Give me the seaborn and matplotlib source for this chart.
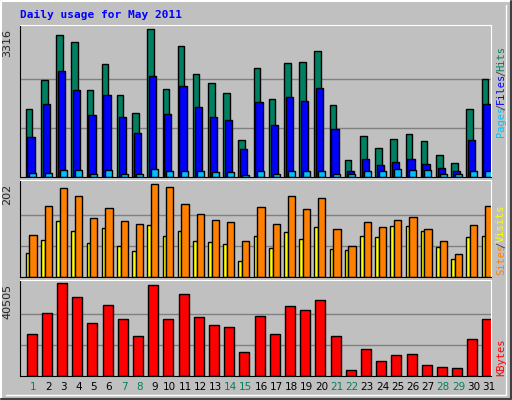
import matplotlib
matplotlib.use('Agg')
from matplotlib import pyplot as plt
import numpy as np
import pandas as pd
import seaborn as sns

days = list(range(1, 32))
weekend = [1, 7, 8, 14, 15, 21, 22, 28, 29]
hits = [1530, 2186, 3188, 3022, 1960, 2547, 1846, 1439, 3316, 1982, 2932, 2321, 2118, 1892, 829, 2457,
        1756, 2570, 2593, 2841, 1620, 377, 919, 648, 852, 965, 806, 490, 309, 1530, 2208]
files = [897, 1643, 2389, 1960, 1394, 1846, 1349, 987, 2276, 1417, 2050, 1575, 1349, 1281, 626, 1688,
         1168, 1801, 1711, 2005, 1078, 128, 400, 264, 332, 400, 286, 196, 128, 829, 1643]
pages = [98, 98, 150, 150, 75, 150, 75, 60, 173, 128, 128, 128, 105, 105, 38, 128,
         75, 128, 128, 128, 75, 75, 128, 128, 173, 150, 150, 75, 60, 128, 128]
visits = [91, 154, 193, 176, 128, 150, 122, 115, 202, 195, 159, 137, 124, 119, 78, 152,
          115, 176, 148, 172, 104, 67, 119, 109, 124, 130, 104, 78, 50, 113, 154]
sites = [52, 80, 122, 100, 74, 106, 67, 56, 113, 89, 100, 78, 76, 72, 35, 89,
         63, 98, 83, 109, 61, 59, 89, 87, 111, 111, 100, 65, 39, 87, 89]
kbytes = [18497, 27745, 40505, 34351, 23341, 31268, 25103, 17616, 39636, 25103, 35672, 25984, 22460,
          21580, 10570, 26424, 18497, 30828, 29066, 33030, 17616, 2642, 11891, 6606, 9248, 9689,
          4844, 3964, 3523, 16295, 25103]

sns.set_style("white")
plt.rcParams['font.family'] = ['DejaVu Sans Mono', 'DejaVu Sans']
BG = '#c0c0c0'
fig = plt.figure(figsize=(5.12, 4.0), dpi=100, facecolor=BG)

d = np.array(days, dtype=float)


def bars(ax, offset, width, vals, color):
    # left edge offset -> bar center
    df = pd.DataFrame({'x': d + offset + width / 2, 'y': vals})
    sns.barplot(data=df, x='x', y='y', native_scale=True, width=width, color=color,
                edgecolor='black', linewidth=1.0, saturation=1, ax=ax)


def panel(bottom, height, ymax, top):
    ax = fig.add_axes([20 / 512, bottom, 471 / 512, height])
    ax.set_facecolor(BG)
    for g in (ymax / 3, ymax * 2 / 3):
        ax.axhline(g, color='#808080', lw=1, zorder=0)
    for s in ('left', 'bottom'):
        ax.spines[s].set_color('black')
    for s in ('top', 'right'):
        ax.spines[s].set_color('white')
    ax.text(-0.016, ymax, str(ymax), transform=ax.get_yaxis_transform(), rotation=90,
            ha='right', va='top', fontsize=8, family='DejaVu Sans')
    return ax


def finish(ax, top):
    ax.set_xlim(0.14, 31.14)
    ax.set_ylim(0, top)
    ax.set_xticks([])
    ax.set_yticks([])
    ax.set_xlabel('')
    ax.set_ylabel('')


ax1 = panel(1 - 177 / 400, 152 / 400, 3316, 3414)
bars(ax1, -0.48, 0.43, hits, '#008060')
bars(ax1, -0.37, 0.48, files, '#0000ff')
bars(ax1, -0.24, 0.46, pages, '#00c0ff')
finish(ax1, 3414)

ax2 = panel(1 - 277 / 400, 97 / 400, 202, 210)
bars(ax2, -0.48, 0.24, sites, '#ffff00')
bars(ax2, -0.24, 0.48, visits, '#ff8000')
finish(ax2, 210)

ax3 = panel(1 - 376 / 400, 96 / 400, 40505, 41989)
bars(ax3, -0.42, 0.66, kbytes, '#ff0000')
finish(ax3, 41989)

for i in days:
    ax3.text(i, -0.06, str(i), transform=ax3.get_xaxis_transform(), ha='center', va='top',
             fontsize=7.5, color='#008060' if i in weekend else 'black', family='DejaVu Sans')

fig.text(20 / 512, 1 - 15 / 400, 'Daily usage for May 2011', color='#0000ff', fontweight='bold',
         fontsize=8, va='center', ha='left')


def side(parts, y0):
    y = y0
    for txt, col in parts:
        fig.text(501 / 512, y, txt, rotation=90, color=col, fontsize=7.5, ha='center', va='bottom')
        y += len(txt) * 5.5 / 400


side([('Pages', '#00c0ff'), ('/', '#404040'), ('Files', '#0000ff'), ('/', '#404040'),
      ('Hits', '#008060')], 1 - 137 / 400)
side([('Sites', '#ff8000'), ('/', '#404040'), ('Visits', '#ffff00')], 1 - 275 / 400)
side([('KBytes', '#ff0000')], 1 - 376 / 400)

# 3d-style outer border
fig.add_artist(plt.Line2D([0.002, 0.002, 0.998], [0.002, 0.998, 0.998], color='white', lw=1.5))
fig.add_artist(plt.Line2D([0.002, 0.998, 0.998], [0.002, 0.002, 0.998], color='#404040', lw=1.5))
fig.add_artist(plt.Line2D([0.012, 0.988, 0.988], [0.012, 0.012, 0.988], color='white', lw=1))

fig.savefig('out.png', dpi=100, facecolor=BG)
